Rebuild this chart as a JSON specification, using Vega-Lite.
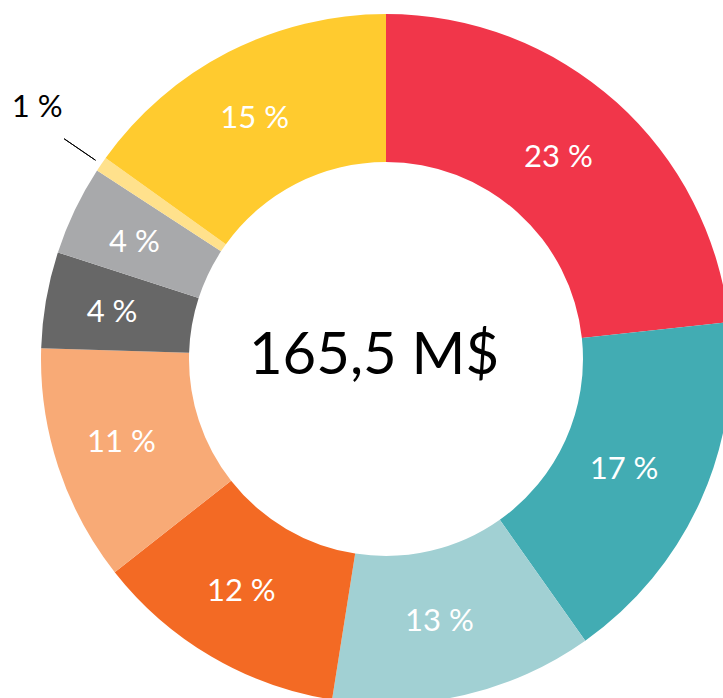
{
  "$schema": "https://vega.github.io/schema/vega-lite/v6.json",
  "width": 772,
  "height": 718,
  "padding": 0,
  "autosize": {"type": "none"},
  "background": "white",
  "config": {"view": {"stroke": null}},
  "data": {
    "values": [
      {"cat": "A", "order": 1, "value": 23.3, "label": "23 %"},
      {"cat": "B", "order": 2, "value": 16.9, "label": "17 %"},
      {"cat": "C", "order": 3, "value": 12.3, "label": "13 %"},
      {"cat": "D", "order": 4, "value": 11.9, "label": "12 %"},
      {"cat": "E", "order": 5, "value": 11.1, "label": "11 %"},
      {"cat": "F", "order": 6, "value": 4.5, "label": "4 %"},
      {"cat": "G", "order": 7, "value": 4.2, "label": "4 %"},
      {"cat": "H", "order": 8, "value": 0.7, "label": "1 %"},
      {"cat": "I", "order": 9, "value": 15.1, "label": "15 %"}
    ]
  },
  "encoding": {
    "theta": {"field": "value", "type": "quantitative", "stack": true},
    "order": {"field": "order", "type": "quantitative"}
  },
  "layer": [
    {
      "mark": {"type": "arc", "radius": 345, "radius2": 197},
      "encoding": {
        "color": {
          "field": "cat",
          "type": "nominal",
          "scale": {
            "domain": ["A", "B", "C", "D", "E", "F", "G", "H", "I"],
            "range": ["#F1364A", "#42ACB3", "#A1D0D3", "#F36A24", "#F8AA76", "#676767", "#A8A9AB", "#FFE18C", "#FFCB2F"]
          },
          "legend": null
        }
      }
    },
    {
      "mark": {"type": "arc", "radius": 390, "radius2": 352, "padAngle": 0.1, "fill": "transparent", "stroke": "#000000", "strokeWidth": 1},
      "encoding": {
        "strokeOpacity": {"condition": {"test": "datum.cat === 'H'", "value": 1}, "value": 0}
      }
    },
    {
      "mark": {"type": "text", "radius": 270, "dx": -8, "font": "Lato", "fontSize": 31, "color": "white", "baseline": "middle", "align": "center"},
      "encoding": {
        "text": {"condition": {"test": "datum.cat !== 'H'", "field": "label"}, "value": ""}
      }
    },
    {
      "mark": {"type": "text", "radius": 425, "dx": 2, "dy": -11, "font": "Lato", "fontSize": 31, "color": "black", "baseline": "middle", "align": "center"},
      "encoding": {
        "text": {"condition": {"test": "datum.cat === 'H'", "field": "label"}, "value": ""}
      }
    },
    {
      "data": {"values": [{"total": "165,5 M$"}]},
      "mark": {"type": "text", "dx": -12, "dy": -2, "font": "Lato", "fontSize": 58, "color": "black", "baseline": "middle", "align": "center"},
      "encoding": {
        "text": {"field": "total", "type": "nominal"},
        "theta": null,
        "order": null
      }
    }
  ]
}
